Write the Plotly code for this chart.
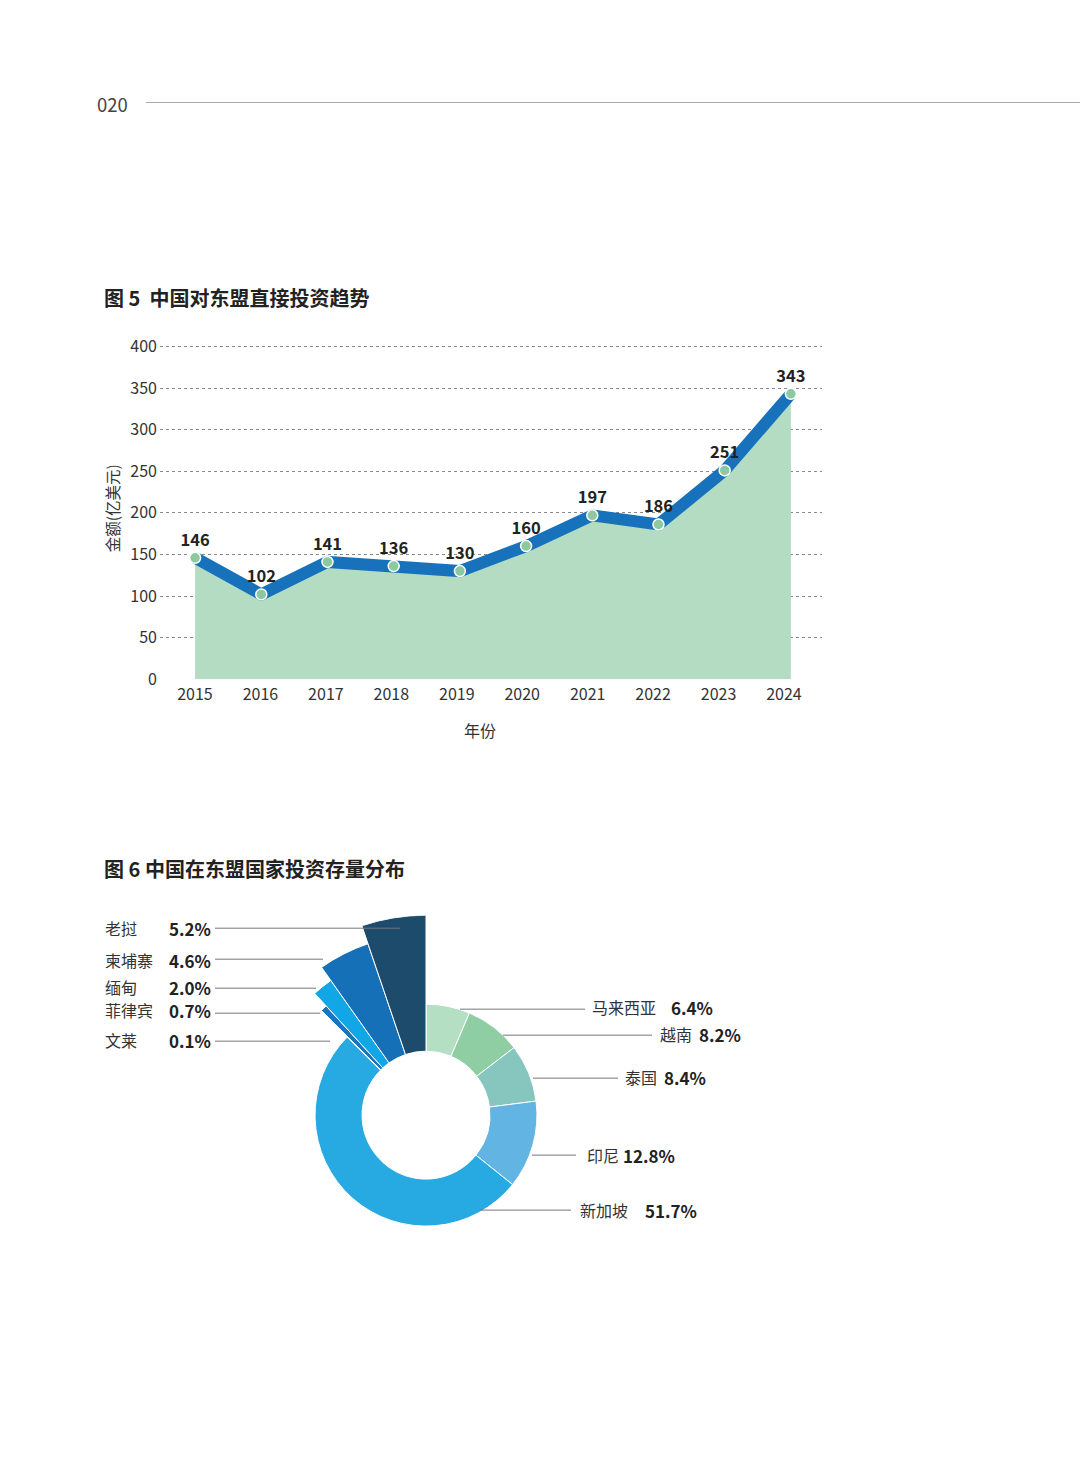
import plotly.graph_objects as go

W, H = 1080, 1466

# ---------------- data ----------------
years = [2015, 2016, 2017, 2018, 2019, 2020, 2021, 2022, 2023, 2024]
invest = [146, 102, 141, 136, 130, 160, 197, 186, 251, 343]
y_ticks = [0, 50, 100, 150, 200, 250, 300, 350, 400]

countries = ["马来西亚", "越南", "泰国", "印尼", "新加坡", "文莱", "菲律宾", "缅甸", "柬埔寨", "老挝"]
shares = [6.4, 8.2, 8.4, 12.8, 51.7, 0.1, 0.7, 2.0, 4.6, 5.2]
share_text = ["6.4%", "8.2%", "8.4%", "12.8%", "51.7%", "0.1%", "0.7%", "2.0%", "4.6%", "5.2%"]

# ---------------- styles ----------------
FONT = "Noto Sans CJK SC"
slice_colors = ["#b4dfc3", "#8fcea2", "#87c6bf", "#62b4e3", "#27a9e1",
                "#5f7fc0", "#1b75bc", "#11a7e6", "#1570b8", "#1d4b6c"]
outer_r = [111, 111, 111, 111, 111, 135, 148, 165, 181, 200]
inner_r = 64

# empirical vertical correction of the rendered page
Y_SCALE, Y_OFF = 0.986, 10.5


def px(x):
    return x / W


def py(y):
    return 1 - ((y - Y_OFF) / Y_SCALE) / H


fig = go.Figure()

# ---- line chart ----
fig.add_trace(go.Scatter(x=years, y=invest, mode="lines", line=dict(width=0),
                         fill="tozeroy", fillcolor="#b3dcc3", hoverinfo="skip",
                         showlegend=False, xaxis="x", yaxis="y"))
fig.add_trace(go.Scatter(x=years, y=invest, mode="lines",
                         line=dict(color="#1872bb", width=12),
                         showlegend=False, xaxis="x", yaxis="y"))
fig.add_trace(go.Scatter(x=years, y=invest, mode="markers+text",
                         marker=dict(color="#8cc9a0", size=11, line=dict(color="white", width=1.5)),
                         text=[f"<b>{v}</b>" for v in invest], textposition="top center",
                         textfont=dict(family=FONT, size=16.5, color="#222"),
                         showlegend=False, xaxis="x", yaxis="y", cliponaxis=False))

# ---- rose donut ----
total = sum(shares)
start = 0.0
thetas, widths = [], []
for s in shares:
    w = s / total * 360
    thetas.append(start + w / 2)
    widths.append(w)
    start += w

fig.add_trace(go.Barpolar(
    theta=thetas, width=widths,
    r=[o - inner_r for o in outer_r], base=inner_r,
    marker=dict(color=slice_colors, line=dict(color="white", width=1)),
    text=countries, hoverinfo="text", showlegend=False, subplot="polar"))

layout_annotations = []
shapes = []

# page header
layout_annotations.append(dict(x=px(95), y=py(105), xref="paper", yref="paper",
                               text="020", showarrow=False, xanchor="left", yanchor="middle",
                               font=dict(family=FONT, size=18.5, color="#444")))
shapes.append(dict(type="line", xref="paper", yref="paper", x0=px(146), x1=1.0,
                   y0=py(103), y1=py(103), line=dict(color="#aaaaaa", width=1)))

# titles
layout_annotations.append(dict(x=px(102), y=py(298), xref="paper", yref="paper",
                               text="<b>图 5  中国对东盟直接投资趋势</b>", showarrow=False,
                               xanchor="left", yanchor="middle",
                               font=dict(family=FONT, size=20, color="#222")))
layout_annotations.append(dict(x=px(102), y=py(869), xref="paper", yref="paper",
                               text="<b>图 6 中国在东盟国家投资存量分布</b>", showarrow=False,
                               xanchor="left", yanchor="middle",
                               font=dict(family=FONT, size=20, color="#222")))

# axis titles
layout_annotations.append(dict(x=px(112), y=py(509), xref="paper", yref="paper",
                               text="金额(亿美元)", showarrow=False, textangle=-90,
                               xanchor="center", yanchor="middle",
                               font=dict(family=FONT, size=15.5, color="#333")))
layout_annotations.append(dict(x=px(480), y=py(731), xref="paper", yref="paper",
                               text="年份", showarrow=False,
                               xanchor="center", yanchor="middle",
                               font=dict(family=FONT, size=16, color="#333")))

# donut labels: (index, text_y, line_y, line_x0, line_x1, name_x, pct_x)
left_labels = [
    (9, 929, 929, 215, 400, 103, 167),
    (8, 961, 960, 215, 323, 103, 167),
    (7, 988, 989, 215, 316, 103, 167),
    (6, 1011, 1014, 215, 320, 103, 167),
    (5, 1041, 1042, 215, 330, 103, 167),
]
right_labels = [
    (0, 1008, 1010, 460, 585, 590, 669),
    (1, 1035, 1036, 503, 652, 658, 697),
    (2, 1078, 1079, 533, 618, 623, 662),
    (3, 1156, 1156, 532, 576, 585, 621),
    (4, 1211, 1211, 480, 571, 578, 643),
]
for idx, ty, ly, lx0, lx1, nx, pxx in left_labels + right_labels:
    layout_annotations.append(dict(x=px(nx), y=py(ty), xref="paper", yref="paper",
                                   text=countries[idx], showarrow=False,
                                   xanchor="left", yanchor="middle",
                                   font=dict(family=FONT, size=16, color="#333")))
    layout_annotations.append(dict(x=px(pxx), y=py(ty), xref="paper", yref="paper",
                                   text=f"<b>{share_text[idx]}</b>", showarrow=False,
                                   xanchor="left", yanchor="middle",
                                   font=dict(family=FONT, size=17, color="#222")))
    shapes.append(dict(type="line", xref="paper", yref="paper",
                       x0=px(lx0), x1=px(lx1), y0=py(ly), y1=py(ly),
                       line=dict(color="#777777", width=1)))

cx, cy, R = 426, 1116, 200

# y axis: 0 at 680 px, 400 at 347 px; range extended a little so the 400 grid shows
Y_MAX = 404
y_top_px = 680 - Y_MAX * (680 - 347) / 400

# year labels in the reference are spaced slightly tighter than the points
lab_first_px, lab_last_px = 195, 784
lab_step = (lab_last_px - lab_first_px) / (len(years) - 1)
x2_range = [years[0] - (lab_first_px - 160) / lab_step,
            years[-1] + (822 - lab_last_px) / lab_step]

fig.update_layout(
    width=W, height=H,
    margin=dict(l=0, r=0, t=0, b=0),
    paper_bgcolor="white", plot_bgcolor="rgba(0,0,0,0)",
    xaxis=dict(domain=[px(160), px(822)], range=[2014.47, 2024.47],
               showticklabels=False,
               showgrid=False, zeroline=False, showline=False, ticks="", anchor="y"),
    xaxis2=dict(domain=[px(160), px(822)], range=x2_range, overlaying="x",
                side="bottom", anchor="y",
                tickvals=years, ticktext=[str(y) for y in years],
                showgrid=False, zeroline=False, showline=False, ticks="",
                ticklabelstandoff=4,
                tickfont=dict(family=FONT, size=16, color="#333")),
    yaxis=dict(domain=[py(680), py(y_top_px)], range=[0, Y_MAX],
               tickvals=y_ticks, showgrid=True, gridcolor="#8a8a8a", griddash="dot",
               gridwidth=1, zeroline=False, showline=False, ticks="",
               ticklabelstandoff=2,
               tickfont=dict(family=FONT, size=16, color="#333"), anchor="x"),
    polar=dict(domain=dict(x=[px(cx - R), px(cx + R)], y=[py(cy + R), py(cy - R)]),
               bgcolor="rgba(0,0,0,0)",
               radialaxis=dict(range=[0, R], visible=False),
               angularaxis=dict(direction="clockwise", rotation=90, visible=False),
               bargap=0),
    annotations=layout_annotations,
    shapes=shapes,
)

# an invisible trace so the label axis is rendered
fig.add_trace(go.Scatter(x=years, y=[None] * len(years), xaxis="x2", yaxis="y",
                         showlegend=False, hoverinfo="skip"))

fig.write_html("out.html")
